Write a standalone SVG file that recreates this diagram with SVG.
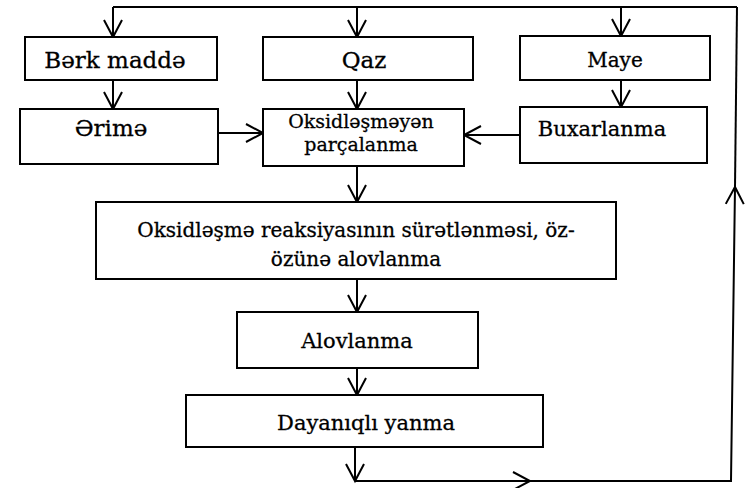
<svg xmlns="http://www.w3.org/2000/svg" width="750" height="488" viewBox="0 0 750 488">
<style>
.box{fill:#fff;stroke:#000;stroke-width:2}
.t{font-family:"DejaVu Serif","Liberation Serif",serif;fill:#000;text-anchor:middle;stroke:#000;stroke-width:0.3}
.c{fill:none;stroke:#000;stroke-width:2}
</style>
<defs>
<marker id="ah" markerUnits="userSpaceOnUse" markerWidth="24" markerHeight="24" refX="20" refY="10" orient="auto" overflow="visible">
<path d="M3,1 L20,10 L3,19" fill="none" stroke="#000" stroke-width="2"/>
</marker>
</defs>
<rect width="750" height="488" fill="#fff"/>
<g id="connectors">
<path class="c" d="M113,7 H737"/>
<path class="c" d="M113,7 V37" marker-end="url(#ah)"/>
<path class="c" d="M357,7 V37" marker-end="url(#ah)"/>
<path class="c" d="M621,7 V36" marker-end="url(#ah)"/>
<path class="c" d="M113,80 V109" marker-end="url(#ah)"/>
<path class="c" d="M357,80 V109" marker-end="url(#ah)"/>
<path class="c" d="M621,80 V107" marker-end="url(#ah)"/>
<path class="c" d="M218,133 H263" marker-end="url(#ah)"/>
<path class="c" d="M520,135 H464" marker-end="url(#ah)"/>
<path class="c" d="M357,166 V202" marker-end="url(#ah)"/>
<path class="c" d="M357,279 V312" marker-end="url(#ah)"/>
<path class="c" d="M357,368 V395" marker-end="url(#ah)"/>
<path class="c" d="M355,447 V481" marker-end="url(#ah)"/>
<path class="c" d="M355,481 H530" marker-end="url(#ah)"/>
<path class="c" d="M530,481 H731 L735,187" marker-end="url(#ah)"/>
<path class="c" d="M735,187 L737,7"/>
</g>
<g id="n-berk"><rect class="box" x="25" y="37" width="192" height="43"/><text class="t" x="115" y="68" font-size="23">Bərk maddə</text></g>
<g id="n-qaz"><rect class="box" x="263" y="37" width="210" height="43"/><text class="t" x="364" y="68" font-size="23">Qaz</text></g>
<g id="n-maye"><rect class="box" x="520" y="36" width="190" height="44"/><text class="t" x="615" y="67" font-size="20">Maye</text></g>
<g id="n-erime"><rect class="box" x="20" y="109" width="198" height="55"/><text class="t" x="111" y="136" font-size="23">Ərimə</text></g>
<g id="n-oksid"><rect class="box" x="263" y="109" width="201" height="57"/><text class="t" x="361" y="128" font-size="19">Oksidləşməyən</text><text class="t" x="361" y="151" font-size="19">parçalanma</text></g>
<g id="n-buxar"><rect class="box" x="520" y="107" width="187" height="56"/><text class="t" x="602" y="136" font-size="21">Buxarlanma</text></g>
<g id="n-reaks"><rect class="box" x="96" y="202" width="520" height="77"/><text class="t" x="356" y="237" font-size="20">Oksidləşmə reaksiyasının sürətlənməsi, öz-</text><text class="t" x="356" y="266" font-size="20">özünə alovlanma</text></g>
<g id="n-alov"><rect class="box" x="237" y="312" width="241" height="56"/><text class="t" x="357" y="348" font-size="21">Alovlanma</text></g>
<g id="n-dayan"><rect class="box" x="186" y="395" width="357" height="52"/><text class="t" x="366" y="430" font-size="21">Dayanıqlı yanma</text></g>
</svg>
